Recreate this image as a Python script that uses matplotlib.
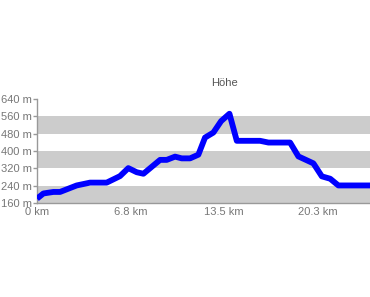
import matplotlib
matplotlib.use("Agg")
import matplotlib.pyplot as plt

plt.rcParams['font.family'] = ['Liberation Sans', 'DejaVu Sans']

dist_km = [0.0, 0.46, 1.18, 1.66, 2.86, 3.82, 5.02, 5.98, 6.58, 7.19, 7.67,
           8.87, 9.35, 9.95, 10.43, 11.03, 11.63, 12.11, 12.71, 13.27, 13.87,
           14.4, 16.08, 16.68, 18.24, 18.84, 19.92, 20.53, 21.13, 21.72, 24.0]
elev_m = [180, 204, 211, 211, 241, 254, 254, 284, 321, 302, 295,
          359, 359, 374, 366, 366, 383, 462, 485, 538, 572,
          447, 447, 439, 439, 375, 343, 283, 272, 241, 241]

x_ticks = [0, 6.75, 13.5, 20.25]
x_labels = ["0 km", "6.8 km", "13.5 km", "20.3 km"]
y_ticks = [160, 240, 320, 400, 480, 560, 640]
y_labels = [f"{v} m" for v in y_ticks]
bands = [(160, 240), (320, 400), (480, 560)]

W, H = 370, 297
fig = plt.figure(figsize=(W / 100, H / 100), dpi=100)
ax = fig.add_axes([37 / W, (H - 203) / H, (370 - 37) / W, (203 - 99) / H])

for lo, hi in bands:
    ax.axhspan(lo, hi, color="#cccccc", lw=0, zorder=0)

ax.plot(dist_km, elev_m, color="#0000ff", lw=4.2, solid_joinstyle="round",
        solid_capstyle="butt", zorder=3, clip_on=True)

ax.set_xlim(0, 24.0)
ax.set_ylim(160, 640)
ax.set_xticks(x_ticks)
ax.set_xticklabels(x_labels)
ax.set_yticks(y_ticks)
ax.set_yticklabels(y_labels)

for s in ["top", "right"]:
    ax.spines[s].set_visible(False)
for s in ["left", "bottom"]:
    ax.spines[s].set_color("#999999")
    ax.spines[s].set_linewidth(1)

ax.tick_params(axis="y", length=3, width=1, color="#999999", pad=0.5,
               labelsize=8, labelcolor="#777777")
ax.tick_params(axis="x", length=0, pad=3, labelsize=8, labelcolor="#777777")

fig.text(224 / W, 1 - 83 / H, "Höhe", ha="center", va="center",
         fontsize=8, color="#555555")

fig.savefig("out.png", dpi=100)
